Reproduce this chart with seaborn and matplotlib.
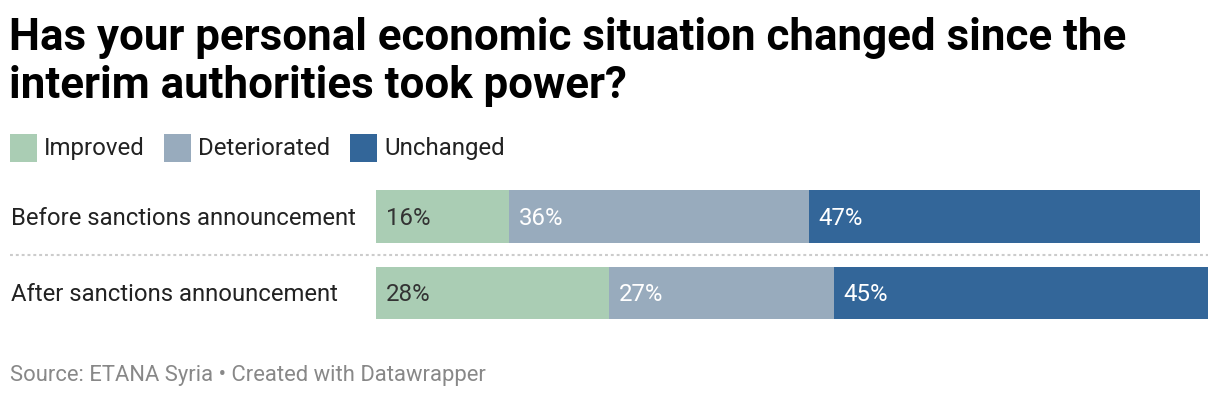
import matplotlib
matplotlib.use("Agg")
import matplotlib.pyplot as plt
import matplotlib.transforms as mtransforms
from matplotlib.patches import Rectangle
from matplotlib.lines import Line2D
import pandas as pd
import seaborn as sns

# Data
periods = ["Before sanctions announcement", "After sanctions announcement"]
improved = [16, 28]
deteriorated = [36, 27]
unchanged = [47, 45]
categories = ["Improved", "Deteriorated", "Unchanged"]
colors = ["#aacdb4", "#98abbd", "#336699"]
label_colors = ["#333333", "white", "white"]

title_lines = ["Has your personal economic situation changed since the",
               "interim authorities took power?"]
source = "Source: ETANA Syria \u2022 Created with Datawrapper"

df = pd.DataFrame({"period": periods, "Improved": improved,
                   "Deteriorated": deteriorated, "Unchanged": unchanged})
# cumulative ends so the bars can be stacked by overdrawing
df["c1"] = df["Improved"]
df["c2"] = df["c1"] + df["Deteriorated"]
df["c3"] = df["c2"] + df["Unchanged"]

W, H = 1220, 396
sns.set_theme(style="white")
plt.rcParams["font.family"] = ["Roboto", "DejaVu Sans"]


def fx(px):
    return px / W


def fy(px):
    return 1 - px / H


fig = plt.figure(figsize=(W / 100, H / 100), dpi=100)
ax = fig.add_axes([fx(376), fy(331.25), fx(1208) - fx(376), 153 / H])

# draw longest first, then overlay shorter segments
for col, c in zip(["c3", "c2", "c1"], colors[::-1]):
    sns.barplot(data=df, y="period", x=col, color=c, orient="h",
                width=0.69, saturation=1, linewidth=0, ax=ax)

ax.set_xlim(0, 100)
ax.set_ylim(1.5, -0.5)
ax.axis("off")

px_per_unit = 832 / 100
starts = [[0] * len(periods), list(df["c1"]), list(df["c2"])]
values = [improved, deteriorated, unchanged]
for k in range(3):
    for i in range(len(periods)):
        ax.text(starts[k][i] + 10 / px_per_unit, i + 0.02, f"{values[k][i]}%",
                va="center", ha="left", fontsize=17.3, color=label_colors[k])

trans = mtransforms.blended_transform_factory(fig.transFigure, ax.transData)
for i, p in enumerate(periods):
    ax.text(fx(11), i + 0.02, p, transform=trans, va="center", ha="left",
            fontsize=17.2, color="#222222")

# dotted separator between rows
for i in range(len(periods) - 1):
    fig.add_artist(Line2D([fx(10), fx(1208)], [i + 0.5, i + 0.5], transform=trans,
                          linestyle=(0, (1.4, 1.4)), lw=1.5, color="#cccccc"))

# title
fig.text(fx(9), fy(50), title_lines[0], fontsize=31.6, fontweight="bold",
         color="black", va="baseline", ha="left")
fig.text(fx(9), fy(98), title_lines[1], fontsize=31.6, fontweight="bold",
         color="black", va="baseline", ha="left")

# legend
sq_x = [10, 164, 350]
txt_x = [44, 198, 384]
for name, c, sx, tx in zip(categories, colors, sq_x, txt_x):
    fig.add_artist(Rectangle((fx(sx), fy(162)), 27 / W, 28 / H,
                             transform=fig.transFigure, color=c, lw=0))
    fig.text(fx(tx), fy(155), name, fontsize=17.3, color="#222222",
             va="baseline", ha="left")

fig.text(fx(10), fy(381), source, fontsize=15.8, color="#888888",
         va="baseline", ha="left")

fig.savefig("out.png", dpi=100)
